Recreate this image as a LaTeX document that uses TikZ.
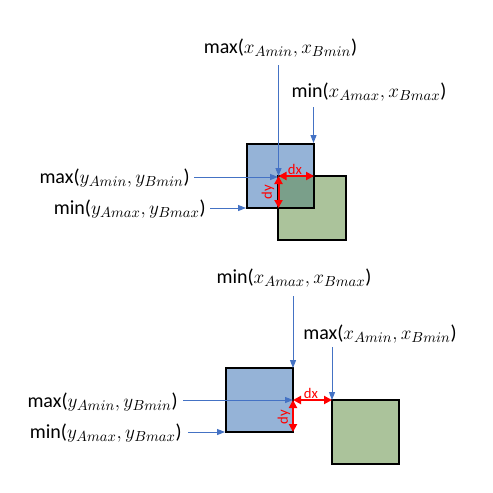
\documentclass[tikz,border=0pt]{standalone}
\usepackage{fontspec}
\setmainfont{Carlito}
\usetikzlibrary{arrows.meta}
\definecolor{fillA}{HTML}{95B3D7}
\definecolor{fillB}{HTML}{ABC39B}
\definecolor{fillAB}{HTML}{7A9F8A}
\definecolor{arrblue}{HTML}{4472C4}
\tikzset{
  lbl/.style={inner sep=0pt, font=\fontsize{15}{17}\selectfont},
  barrow/.style={draw=arrblue, line width=0.75pt, -{Triangle[length=6pt,width=4.5pt]}},
  rarrow/.style={draw=red, line width=1.5pt, {Triangle[length=6pt,width=6pt]}-{Triangle[length=6pt,width=6pt]}},
  rlbl/.style={inner sep=0pt, text=red, font=\fontsize{11}{13}\selectfont},
  sqborder/.style={draw=black, line width=1.1pt}
}
\begin{document}
\begin{tikzpicture}[x=0.75pt,y=-0.75pt]
\useasboundingbox (0,0) rectangle (493,493);
% ---------- top diagram ----------
\fill[fillA] (247,144) rectangle (314,208);
\fill[fillB] (278,176) rectangle (346,240);
\fill[fillAB] (278,176) rectangle (314,208);
\draw[sqborder] (247,144) rectangle (314,208);
\draw[sqborder] (278,176) rectangle (346,240);
\node[lbl] (t1) at (280.5,48) {max($x_{Amin},x_{Bmin}$)};
\node[lbl] (t2) at (369,92) {min($x_{Amax},x_{Bmax}$)};
\node[lbl,anchor=east] (t3) at (190,178) {max($y_{Amin},y_{Bmin}$)};
\node[lbl,anchor=east] (t4) at (206,209) {min($y_{Amax},y_{Bmax}$)};
\coordinate (c1) at (278.5,176);
\coordinate (c2) at (313.5,143);
\coordinate (c3) at (246,208);
\coordinate (c4) at (314,176);
\coordinate (c5) at (278.5,208);
\draw[barrow] (278.5,65) -- (c1);
\draw[barrow] (313.5,107) -- (c2);
\draw[barrow] (194,177) -- (278,177);
\draw[barrow] (210,208) -- (c3);
\draw[rarrow] (c1) -- (c4);
\draw[rarrow] (c1) -- (c5);
\node[rlbl] (dx1) at (295,169) {dx};
\node[rlbl,rotate=90] (dy1) at (268,192) {dy};
% ---------- bottom diagram ----------
\fill[fillA] (226,368) rectangle (293,432);
\fill[fillB] (332,400) rectangle (399,464);
\draw[sqborder] (226,368) rectangle (293,432);
\draw[sqborder] (332,400) rectangle (399,464);
\node[lbl] (b1) at (294,278) {min($x_{Amax},x_{Bmax}$)};
\node[lbl] (b2) at (380,334) {max($x_{Amin},x_{Bmin}$)};
\node[lbl,anchor=east] (b3) at (178,402) {max($y_{Amin},y_{Bmin}$)};
\node[lbl,anchor=east] (b4) at (182,433) {min($y_{Amax},y_{Bmax}$)};
\coordinate (d1) at (293,368);
\coordinate (d2) at (332,400);
\coordinate (d3) at (293,400);
\coordinate (d4) at (225,432);
\coordinate (d5) at (293,432);
\draw[barrow] (293,296) -- (d1);
\draw[barrow] (332,347) -- (d2);
\draw[barrow] (183,400) -- (d3);
\draw[barrow] (188,432) -- (d4);
\draw[rarrow] (d3) -- (d2);
\draw[rarrow] (d3) -- (d5);
\node[rlbl] (dx2) at (311,393) {dx};
\node[rlbl,rotate=90] (dy2) at (284,417) {dy};
\end{tikzpicture}
\end{document}
